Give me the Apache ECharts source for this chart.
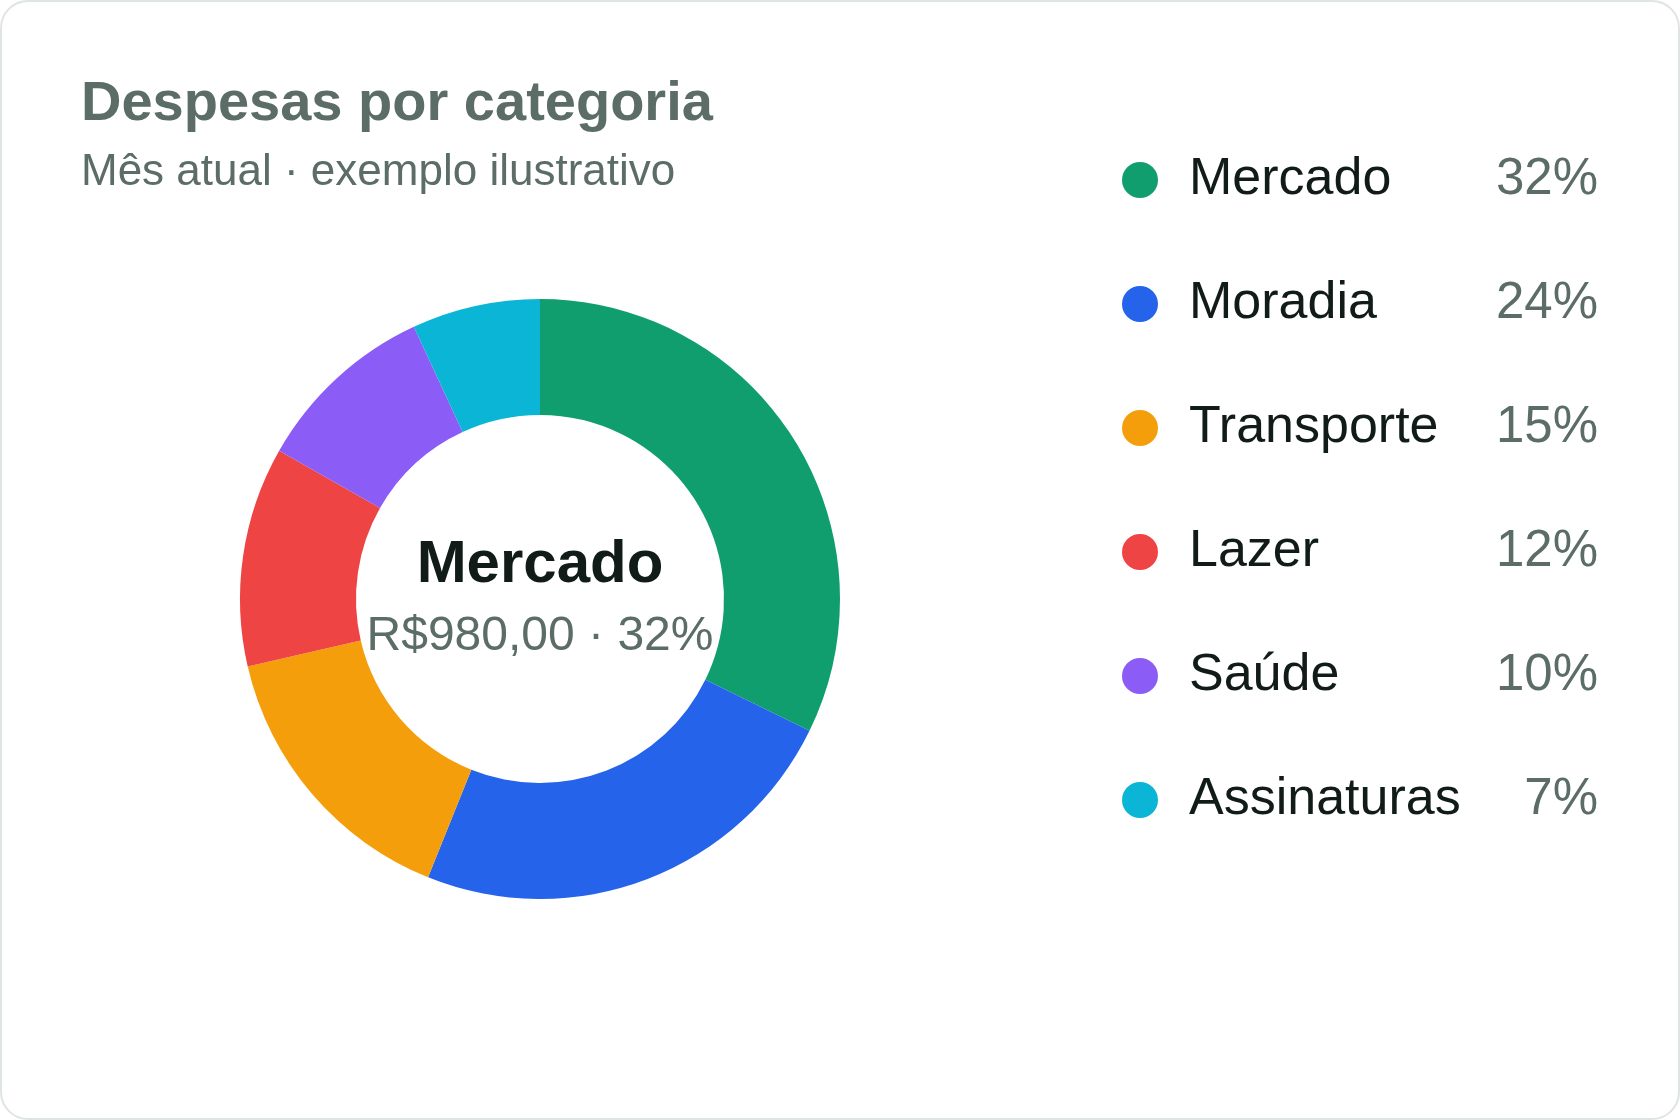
<!DOCTYPE html>
<html lang="pt-BR">
<head>
    <meta charset="UTF-8">
    <title>Despesas por categoria</title>
    <script src="https://cdn.jsdelivr.net/npm/echarts@6/dist/echarts.min.js"></script>
</head>
<style>
    html,body{
        padding: 0;
        margin: 0;
        background: #ffffff;
    }
    .card{
        position: absolute;
        left: 0;
        top: 0;
        width: 1676px;
        height: 1116px;
        border: 2px solid #dfe5e2;
        border-radius: 28px;
        background: #ffffff;
        overflow: hidden;
    }
    #donut{
        width: 1680px;
        height: 1120px;
        margin: -2px 0 0 -2px;
    }
</style>
<body>
<div class="card">
    <div id="donut"></div>
</div>
</body>
<script type="text/javascript">
    // dados do gráfico
    var categorias = ['Mercado', 'Moradia', 'Transporte', 'Lazer', 'Saúde', 'Assinaturas'];
    var valores = [980, 725, 465, 360, 300, 210];
    var cores = ['#119e6f', '#2563eb', '#f59e0b', '#ef4444', '#8b5cf6', '#0bb5d5'];

    var FONTE = '"Liberation Sans", Arial, sans-serif';
    var ESCURO = '#111c18';
    var CINZA = '#5b6d66';

    var total = valores.reduce(function (a, b) { return a + b; }, 0);

    function pct(v) {
        return Math.round(v / total * 100) + '%';
    }

    function reais(v) {
        return 'R$' + v.toFixed(2).replace('.', ',');
    }

    var myChart = echarts.init(document.getElementById('donut'));

    var dados = categorias.map(function (nome, i) {
        return {name: nome, value: valores[i]};
    });
    // destaque no centro para a primeira categoria
    dados[0].label = {
        show: true,
        formatter: '{a|' + categorias[0] + '}\n{b|' + reais(valores[0]) + ' · ' + pct(valores[0]) + '}'
    };

    var option = {
        color: cores,
        animation: false,
        title: {
            text: 'Despesas por categoria',
            subtext: 'Mês atual · exemplo ilustrativo',
            left: 81,
            top: 77,
            itemGap: 18,
            padding: 0,
            textStyle: {fontFamily: FONTE, fontSize: 56, fontWeight: 'bold', color: CINZA},
            subtextStyle: {fontFamily: FONTE, fontSize: 44, color: CINZA}
        },
        legend: {
            orient: 'vertical',
            left: 1122,
            top: 154,
            padding: 0,
            icon: 'circle',
            itemWidth: 36,
            itemHeight: 36,
            itemGap: 72,
            selectedMode: false,
            data: categorias,
            formatter: function (name) {
                var i = categorias.indexOf(name);
                return '{n|' + name + '}{p|' + pct(valores[i]) + '}';
            },
            textStyle: {
                fontFamily: FONTE,
                rich: {
                    n: {fontFamily: FONTE, fontSize: 52, color: ESCURO, width: 300, lineHeight: 36, padding: [0, 0, 0, 26]},
                    p: {fontFamily: FONTE, fontSize: 51, color: CINZA, width: 109, align: 'right', lineHeight: 36}
                }
            }
        },
        series: [
            {
                name: 'Despesas',
                type: 'pie',
                center: [540, 599],
                radius: [184, 300],
                startAngle: 90,
                clockwise: true,
                avoidLabelOverlap: false,
                emphasis: {disabled: true},
                label: {
                    show: false,
                    position: 'center',
                    rich: {
                        a: {fontFamily: FONTE, fontSize: 60, fontWeight: 'bold', color: ESCURO, lineHeight: 75},
                        b: {fontFamily: FONTE, fontSize: 48, color: CINZA, lineHeight: 67}
                    }
                },
                labelLine: {show: false},
                data: dados
            }
        ]
    };

    myChart.setOption(option);
</script>
</html>
